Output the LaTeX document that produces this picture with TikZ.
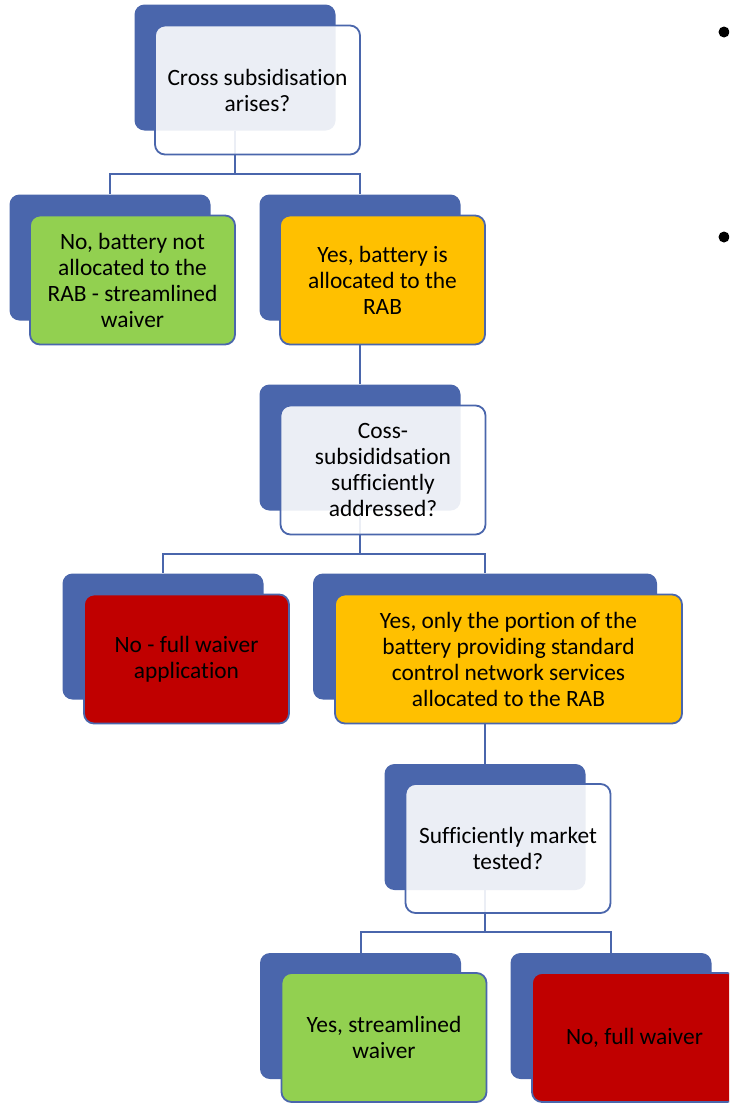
\documentclass[tikz,border=0pt]{standalone}
\usepackage{fontspec}
\setmainfont{Carlito}[Ligatures=NoCommon]
\pgfdeclarelayer{bg}
\pgfdeclarelayer{canvas}
\pgfsetlayers{canvas,bg,main}
\definecolor{sblue}{HTML}{4A66AC}
\definecolor{sgreen}{HTML}{92D050}
\definecolor{sorange}{HTML}{FFC000}
\definecolor{sred}{HTML}{C00000}
\tikzset{
  backbox/.style={fill=sblue, rounded corners=10pt, minimum width=201pt, minimum height=126pt, inner sep=0pt},
  frontbox/.style={draw=sblue, line width=1.8pt, rounded corners=10pt, minimum width=205pt, minimum height=129pt, align=center, font=\fontsize{23.4}{26}\selectfont, text=black, inner sep=0pt},
  qbox/.style={frontbox, fill=white, fill opacity=0.89, text opacity=1},
  greenbox/.style={frontbox, fill=sgreen},
  orangebox/.style={frontbox, fill=sorange},
  redbox/.style={frontbox, fill=sred},
  link/.style={draw=sblue, line width=2pt},
  bulletdot/.style={circle, fill=black, minimum size=11pt, inner sep=0pt}
}
\begin{document}
\begin{tikzpicture}[x=1pt,y=-1pt]
\useasboundingbox (0,0) rectangle (729,1103);
\clip (0,0) rectangle (729,1103);
\begin{pgfonlayer}{canvas}
\fill[white] (0,0) rectangle (729,1103);
\end{pgfonlayer}

% back boxes
\node[backbox] (b1) at (235,67.5) {};
\node[backbox] (b2) at (110,257.5) {};
\node[backbox] (b3) at (360,257.5) {};
\node[backbox] (b4) at (360,447.5) {};
\node[backbox] (b5) at (163,636.5) {};
\node[backbox, minimum width=344pt] (b6) at (485,636.5) {};
\node[backbox] (b7) at (485,827) {};
\node[backbox] (b8) at (360.5,1016) {};
\node[backbox] (b9) at (611,1016) {};

% front boxes
\node[qbox] (n1) at (257.5,90) {Cross subsidisation\\arises?};
\node[greenbox] (n2) at (132.5,280) {No, battery not\\allocated to the\\RAB - streamlined\\waiver};
\node[orangebox] (n3) at (382.5,280) {Yes, battery is\\allocated to the\\RAB};
\node[qbox] (n4) at (383,470) {Coss-\\subsididsation\\sufficiently\\addressed?};
\node[redbox] (n5) at (186.5,659) {No - full waiver\\application};
\node[orangebox, minimum width=347pt] (n6) at (508.5,659) {Yes, only the portion of the\\battery providing standard\\control network services\\allocated to the RAB};
\node[qbox] (n7) at (508,848.5) {Sufficiently market\\tested?};
\node[greenbox] (n8) at (384,1037.5) {Yes, streamlined\\waiver};
\node[redbox] (n9) at (634.5,1037.5) {No, full waiver};

% connectors
\begin{pgfonlayer}{bg}
\draw[link] (b1.south) -- ++(0,43) -| (b2.north);
\draw[link] (b1.south) -- ++(0,43) -| (b3.north);
\draw[link] (b3.south) -- (b4.north);
\draw[link] (b4.south) -- ++(0,43) -| (b5.north);
\draw[link] (b4.south) -- ++(0,43) -| (b6.north);
\draw[link] (b6.south) -- (b7.north);
\draw[link] (b7.south) -- ++(0,42) -| (b8.north);
\draw[link] (b7.south) -- ++(0,42) -| (b9.north);
\end{pgfonlayer}

% bullets
\node[bulletdot] (d1) at (724,32) {};
\node[bulletdot] (d2) at (724,237) {};
\end{tikzpicture}
\end{document}
